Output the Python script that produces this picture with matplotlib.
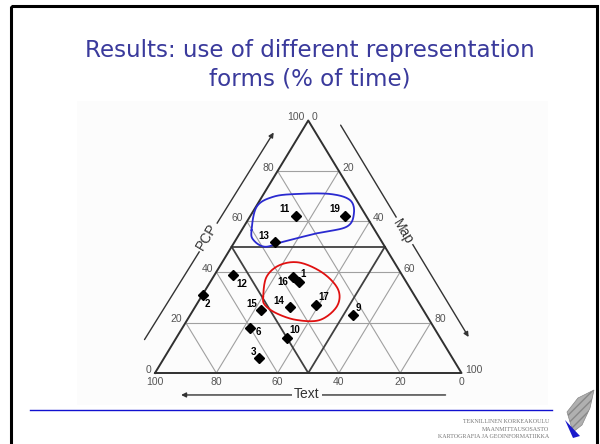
import numpy as np
import matplotlib.pyplot as plt
from matplotlib.patches import Rectangle, Polygon

# --- data: % of time per representation form (PCP, Map, Text) ---
subjects = ["11", "19", "13", "12", "16", "1", "2", "14", "17", "15", "9", "6", "10", "3"]
pcp = [62, 62, 52, 39, 38, 36, 31, 26, 27, 25, 23, 18, 14, 6]
map_ = [15, 31, 13, 6, 26, 29, 0, 31, 39, 22, 53, 22, 36, 31]
text = [23, 7, 35, 55, 36, 35, 69, 43, 34, 53, 24, 60, 50, 63]
grid_levels = [0.2, 0.4, 0.6, 0.8]
tick_values = [0, 20, 40, 60, 80, 100]

# label offsets (px) next to each diamond
label_off = {"11": (-11, 7), "19": (-10, 7), "13": (-11, 6), "12": (9, -9),
             "16": (-10, -5), "1": (4, 8), "2": (5, -9), "14": (-11, 6),
             "17": (8, 8), "15": (-9, 6), "9": (6, 7), "6": (8, -4),
             "10": (8, 8), "3": (-6, 6)}

# hand drawn loops (triangle plane coords)
blue_loop = [(0.315, 0.566), (0.332, 0.659), (0.386, 0.698), (0.462, 0.709),
             (0.571, 0.709), (0.636, 0.685), (0.649, 0.632), (0.625, 0.579),
             (0.527, 0.553), (0.419, 0.520), (0.359, 0.500), (0.321, 0.527)]
red_loop = [(0.353, 0.302), (0.364, 0.381), (0.408, 0.428), (0.473, 0.437),
            (0.549, 0.395), (0.598, 0.329), (0.593, 0.263), (0.538, 0.210),
            (0.462, 0.210), (0.397, 0.236), (0.359, 0.269)]


def tern(p, m):
    # PCP at apex, Map at bottom right, Text at bottom left
    return m + p / 2.0, p


def closed_spline(pts, n=20):
    pts = np.asarray(pts)
    k = len(pts)
    out = []
    for i in range(k):
        p0, p1, p2, p3 = pts[i - 1], pts[i], pts[(i + 1) % k], pts[(i + 2) % k]
        for t in np.linspace(0, 1, n, endpoint=False):
            t2, t3 = t * t, t * t * t
            out.append(0.5 * ((2 * p1) + (-p0 + p2) * t + (2 * p0 - 5 * p1 + 4 * p2 - p3) * t2
                              + (-p0 + 3 * p1 - 3 * p2 + p3) * t3))
    out.append(out[0])
    return np.array(out)


W, H = 600, 444
fig = plt.figure(figsize=(6, 4.44), dpi=100)

# slide background axes in pixel coords
bg = fig.add_axes([0, 0, 1, 1])
bg.set_xlim(0, W)
bg.set_ylim(H, 0)
bg.axis("off")
bg.add_patch(Rectangle((11, 6), 586, 450, fill=False, lw=2.2, ec="black"))
bg.add_patch(Rectangle((77, 101), 471, 304, fc="#fcfcfc", ec="none"))
bg.text(310, 57, "Results: use of different representation", ha="center",
        va="baseline", fontsize=16.6, color="#3a3a9c", family="DejaVu Sans")
bg.text(310, 85, "forms (% of time)", ha="center", va="baseline",
        fontsize=16.6, color="#3a3a9c", family="DejaVu Sans")
bg.plot([30, 552], [410, 410], color="#1010d0", lw=1)
for i, s in enumerate(["TEKNILLINEN KORKEAKOULU", "MAANMITTAUSOSASTO",
                       "KARTOGRAFIA JA GEOINFORMATIIKKA"]):
    bg.text(549, 423 + i * 7.5, s, ha="right", va="baseline", fontsize=4.3,
            color="#777777", family="Liberation Serif")
# little wing logo
bg.add_patch(Polygon([(567, 412), (578, 398), (594, 390), (590, 408), (582, 425),
                      (573, 432)], closed=True, fc="#b0b0b0", ec="#888888",
                     lw=0.5, hatch="////"))
bg.add_patch(Polygon([(565, 420), (580, 436), (573, 438)], closed=True,
                     fc="#1a1acc", ec="none"))

# ternary axes: triangle (0,0)-(1,0)-(0.5,1) mapped onto the slide
ax = fig.add_axes([155 / W, (H - 373) / H, 306.5 / W, 252.5 / H])
ax.set_xlim(0, 1)
ax.set_ylim(0, 1)
ax.axis("off")

for v in grid_levels:
    ax.plot([v / 2, 1 - v / 2], [v, v], color="#a0a0a0", lw=0.8, zorder=1)
    ax.plot([v, (1 + v) / 2], [0, 1 - v], color="#a0a0a0", lw=0.8, zorder=1)
    ax.plot([1 - v, (1 - v) / 2], [0, 1 - v], color="#a0a0a0", lw=0.8, zorder=1)
# medial triangle
ax.plot([0.25, 0.75], [0.5, 0.5], color="#404040", lw=1.3, zorder=2)
ax.plot([0.25, 0.5, 0.75], [0.5, 0, 0.5], color="#404040", lw=1.3, zorder=2)
# outer triangle
ax.plot([0, 1, 0.5, 0], [0, 0, 1, 0], color="#303030", lw=1.4, zorder=2,
        clip_on=False)

tick_kw = dict(textcoords="offset points", fontsize=7.5, color="#555555",
               family="Liberation Sans", annotation_clip=False)
for t in tick_values:
    v = t / 100
    ax.annotate(str(t), (v / 2, v), xytext=(-2.5, 2.5), ha="right", va="center", **tick_kw)
    ax.annotate(str(100 - t), (1 - v / 2, v), xytext=(2.5, 2.5), ha="left", va="center", **tick_kw)
    ax.annotate(str(t), (1 - v, 0), xytext=(0, -3), ha="center", va="top", **tick_kw)

# axis arrows and titles
arr = dict(arrowstyle="-|>", color="#333333", lw=1, mutation_scale=7)
ax.annotate("", xy=(0.392, 0.962), xytext=(-0.039, 0.123), arrowprops=arr,
            annotation_clip=False)
ax.annotate("", xy=(1.028, 0.133), xytext=(0.601, 0.991), arrowprops=arr,
            annotation_clip=False)
ax.annotate("", xy=(0.076, -0.087), xytext=(0.957, -0.087), arrowprops=arr,
            annotation_clip=False)
lab_kw = dict(fontsize=10, color="#333333", family="Liberation Sans", ha="center",
              va="center", clip_on=False,
              bbox=dict(fc="#fcfcfc", ec="none", pad=1.5))
ax.text(0.169, 0.540, "PCP", rotation=58.9, **lab_kw)
ax.text(0.810, 0.560, "Map", rotation=-58.9, **lab_kw)
ax.text(0.495, -0.085, "Text", **lab_kw)

# subjects
for s, p, m in zip(subjects, pcp, map_):
    x, y = tern(p / 100, m / 100)
    ax.plot(x, y, marker="D", ms=5.5, color="black", zorder=5, clip_on=False)
    dx, dy = label_off[s]
    ax.annotate(s, (x, y), xytext=(dx * 0.72, dy * 0.72), textcoords="offset points",
                ha="center", va="center", fontsize=7, fontweight="bold",
                family="Liberation Sans", color="black", zorder=6)

for loop, col in [(blue_loop, "#2a2ad0"), (red_loop, "#e01010")]:
    c = closed_spline(loop)
    ax.plot(c[:, 0], c[:, 1], color=col, lw=1.3, zorder=4)

fig.savefig("out.png", dpi=100)
